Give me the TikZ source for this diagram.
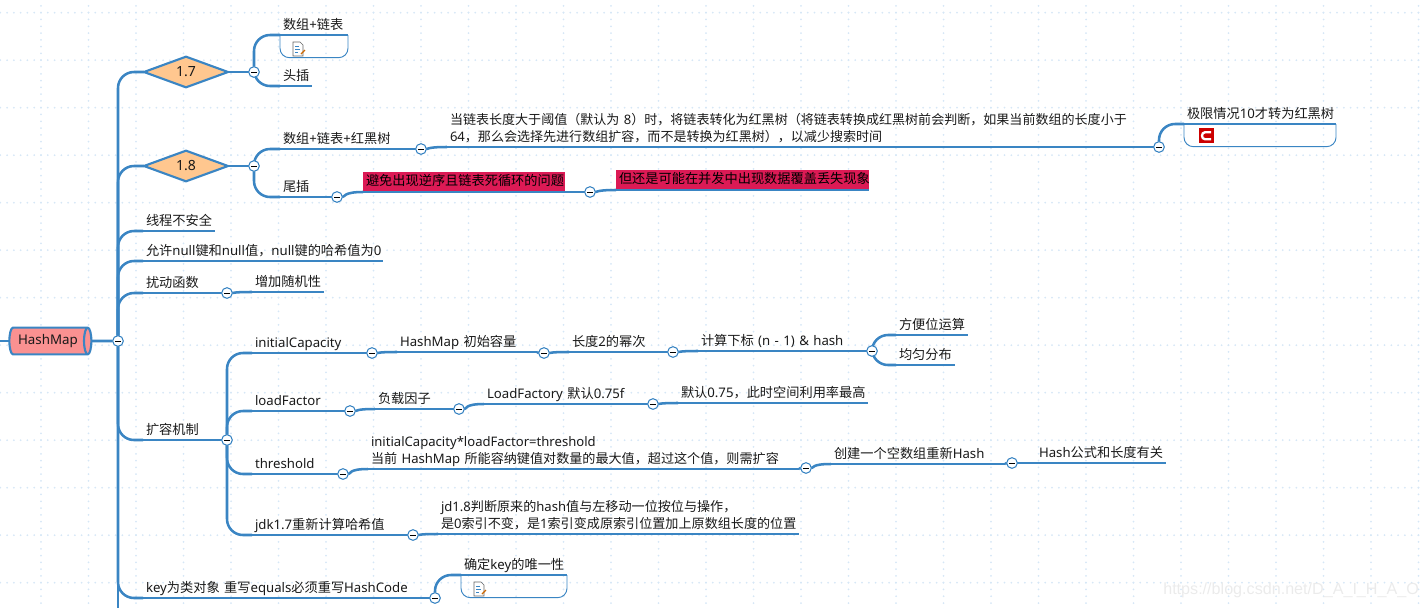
\documentclass[tikz,border=0pt]{standalone}
\usepackage{fontspec}
\setmainfont{Noto Sans}
\newfontfamily\cjkf{Noto Sans CJK SC}
\newXeTeXintercharclass\cjkclass
\XeTeXinterchartokenstate=1
\newcount\cc
\cc="3000 \loop \XeTeXcharclass\cc=\cjkclass \ifnum\cc<"303F \advance\cc 1 \repeat
\cc="4E00 \loop \XeTeXcharclass\cc=\cjkclass \ifnum\cc<"9FFF \advance\cc 1 \repeat
\cc="FF00 \loop \XeTeXcharclass\cc=\cjkclass \ifnum\cc<"FF60 \advance\cc 1 \repeat
\XeTeXinterchartoks 0 \cjkclass={\begingroup\cjkf}
\XeTeXinterchartoks 4095 \cjkclass={\begingroup\cjkf}
\XeTeXinterchartoks \cjkclass 0={\endgroup}
\XeTeXinterchartoks \cjkclass 4095={\endgroup}
\usetikzlibrary{shapes.geometric,backgrounds}
\definecolor{mm}{HTML}{3A85C3}
\definecolor{dotc}{HTML}{D6E7F6}
\definecolor{hot}{HTML}{DC1A55}
\tikzset{
  x=0.75pt,y=-0.75pt,
  topic/.style={anchor=south west,inner xsep=2.25pt,inner ysep=0.4pt,outer sep=0pt,
    font=\fontsize{9.9}{12.75}\selectfont,text=black!90,align=left,text width=#1*0.75pt-4.5pt,
    minimum width=#1*0.75pt,execute at begin node=\strut,execute at end node=\strut},
  hotfill/.style={fill=hot,text=black,inner ysep=1.2pt},
  tight/.style={font=\fontsize{#1}{12.75}\selectfont},
  conn/.style={draw=mm,line width=1.9pt,rounded corners=12pt},
  ul/.style={draw=mm,line width=1.7pt},
  ulthin/.style={draw=mm,line width=0.8pt},
  btn/.style={circle,draw=mm,fill=white,line width=0.8pt,minimum size=8pt,inner sep=0pt,outer sep=0pt,
    path picture={\draw[black,line width=0.7pt] ([xshift=-2.2pt]path picture bounding box.center) -- ([xshift=2.2pt]path picture bounding box.center);}},
  dia/.style={diamond,draw=mm,line width=1.6pt,fill={rgb,255:red,255;green,199;blue,143},aspect=2.7,
    minimum width=63pt,minimum height=23pt,inner sep=0pt,outer sep=0pt,font=\fontsize{10.5}{12}\selectfont,text=black!90},
  notebox/.style={draw=mm,line width=0.7pt,rounded corners=7pt},
  noteanchor/.style={anchor=north west,minimum width=#1*0.75pt,minimum height=17pt,inner sep=0pt,outer sep=0pt},
  hop/.style={conn,rounded corners=0pt,out=0,in=180,out distance=2pt,in distance=15pt},
}
\begin{document}
\begin{tikzpicture}
\useasboundingbox (0,0) rectangle (1424,608);
\clip (0,0) rectangle (1424,608);
% root
\node[cylinder,shape border rotate=0,aspect=0.55,draw=mm,line width=1.6pt,fill={rgb,255:red,250;green,145;blue,145},
  minimum height=61.5pt,minimum width=20pt,inner sep=0pt,outer sep=0pt,font=\fontsize{10}{12}\selectfont,text=black!90] (root) at (48,341) {HashMap\hspace{3pt}};
\coordinate (rin) at (0,341);
\coordinate (tend) at (118,608);
\node[btn] (rb) at (118,341) {};
% 1.7
\node[dia] (d17) at (186,72) {1.7};
\node[btn] (b17) at (254,72) {};
\node[topic=68] (n1) at (280,35) {数组+链表};
\node[noteanchor=68] (note1) at (280,35) {};
\node[topic=32] (n2) at (280,86) {头插};
% 1.8
\node[dia] (d18) at (186,166) {1.8};
\node[btn] (b18) at (254,166) {};
\node[topic=134] (n3) at (280,149) {数组+链表+红黑树};
\node[btn] (b3) at (421,149) {};
\node[topic=703,tight=9.78] (n4) at (447,147) {当链表长度大于阈值（默认为 8）时，将链表转化为红黑树（将链表转换成红黑树前会判断，如果当前数组的长度小于\\64，那么会选择先进行数组扩容，而不是转换为红黑树），以减少搜索时间};
\node[btn] (b4) at (1159,147) {};
\node[topic=152] (n5) at (1184,124) {极限情况10才转为红黑树};
\node[noteanchor=152] (note2) at (1184,124) {};
\node[topic=50] (n6) at (280,197) {尾插};
\node[btn] (b6) at (337,197) {};
\node[topic=202,hotfill] (r1) at (363,192) {避免出现逆序且链表死循环的问题};
\node[btn] (br1) at (590,192) {};
\node[topic=253,hotfill] (r2) at (616,190) {但还是可能在并发中出现数据覆盖丢失现象};
% simple
\node[topic=72] (t1) at (143,231) {线程不安全};
\node[topic=240] (t2) at (143,261) {允许null键和null值，null键的哈希值为0};
\node[topic=77] (t3) at (143,293) {扰动函数};
\node[btn] (b33) at (227,293) {};
\node[topic=72] (t31) at (252,292) {增加随机性};
% expansion
\node[topic=77] (t4) at (143,440) {扩容机制};
\node[btn] (b44) at (227,440) {};
\node[topic=113] (e1) at (252,353) {initialCapacity};
\node[btn] (be1) at (372,353) {};
\node[topic=140] (e11) at (397,352) {HashMap 初始容量};
\node[btn] (be11) at (544,353) {};
\node[topic=97] (e12) at (569,352) {长度2的幂次};
\node[btn] (be12) at (673,352) {};
\node[topic=167] (e13) at (698,351) {计算下标 (n - 1) \& hash};
\node[btn] (be13) at (872,351) {};
\node[topic=72] (e14) at (896,335) {方便位运算};
\node[topic=59] (e15) at (896,365) {均匀分布};
\node[topic=91] (e2) at (252,411) {loadFactor};
\node[btn] (be2) at (350,411) {};
\node[topic=77] (e21) at (375,409) {负载因子};
\node[btn] (be21) at (459,409) {};
\node[topic=162] (e22) at (484,404) {LoadFactory 默认0.75f};
\node[btn] (be22) at (653,404) {};
\node[topic=190] (e23) at (678,403) {默认0.75，此时空间利用率最高};
\node[topic=84] (e3) at (252,474) {threshold};
\node[btn] (be3) at (343,474) {};
\node[topic=431,tight=9.82] (e31) at (368,469) {initialCapacity*loadFactor=threshold\\当前 HashMap 所能容纳键值对数量的最大值，超过这个值，则需扩容};
\node[btn] (be31) at (806,468) {};
\node[topic=174] (e32) at (831,464) {创建一个空数组重新Hash};
\node[btn] (be32) at (1012,463) {};
\node[topic=130] (e33) at (1036,463) {Hash公式和长度有关};
\node[topic=154] (e4) at (252,535) {jdk1.7重新计算哈希值};
\node[btn] (be4) at (413,535) {};
\node[topic=361,tight=9.82] (e41) at (438,534) {jd1.8判断原来的hash值与左移动一位按位与操作，\\是0索引不变，是1索引变成原索引位置加上原数组长度的位置};
% key
\node[topic=285] (t5) at (143,598) {key为类对象 重写equals必须重写HashCode};
\node[btn] (b55) at (435,598) {};
\node[topic=106] (k1) at (461,575) {确定key的唯一性};
\node[noteanchor=106] (note3) at (461,575) {};
% underlines
\foreach \n in {n1,n2,n3,n4,n5,n6,r1,r2,t3,t4,t5,e1,e11,e12,e13,e14,e15,e2,e21,e22,e23,e3,e31,e32,e33,e4,e41,k1}
  \draw[ul] (\n.south west) -- (\n.south east);
\foreach \n in {t1,t2,t31}
  \draw[ulthin] (\n.south west) -- (\n.south east);
% note boxes
\foreach \n in {note1,note2,note3}
  \draw[notebox] (\n.north west) -- (\n.south west) -- (\n.south east) -- (\n.north east);
% icons
\foreach \n/\dx in {note1/18,note3/18}{
  \begin{scope}[shift={([xshift=\dx*0.75pt,yshift=-10.5pt]\n.north west)}]
    \draw[gray!80!black,line width=0.5pt,fill=white] (-5,-7) -- (2,-7) -- (5,-4) -- (5,7) -- (-5,7) -- cycle;
    \draw[mm,line width=0.5pt] (-3,-3) -- (1,-3) (-3,0) -- (2,0) (-3,3) -- (0,3);
    \draw[orange!80!black,line width=1pt] (3,5) -- (7,1);
  \end{scope}}
\begin{scope}[shift={([xshift=22*0.75pt,yshift=-8.8pt]note2.north west)}]
  \fill[red!80!black] (-7.5,-7.5) rectangle (7.5,7.5);
  \draw[white,line width=1.7pt] (5,-3.5) -- (-1,-3.5) .. controls (-5,-3.5) and (-5,3.5) .. (-1,3.5) -- (5,3.5);
\end{scope}
% watermark
\node[anchor=west,inner sep=0pt,font=\fontspec{Liberation Sans}\fontsize{12.1}{14}\selectfont,text=black!8] (wm) at (1163,590) {https://blog.csdn.net/D\_A\_I\_H\_A\_O};
% background
\begin{pgfonlayer}{background}
  \foreach \i in {-1,...,30}
    \draw[dotc,line width=1.5pt,line cap=round,dash pattern=on 0pt off 5.089pt] ({41+47.5*\i},-34.8) -- ({41+47.5*\i},640);
  \foreach \j in {-1,...,13}
    \draw[dotc,line width=1.5pt,line cap=round,dash pattern=on 0pt off 5.089pt] (-6.5,{12.7+47.5*\j}) -- (1440,{12.7+47.5*\j});
  % connectors
  \draw[conn] (rin) -- (root.west);
  \draw[conn] (root.east) -- (rb);
  \draw[conn] (rb) -- (tend);
  \foreach \t in {d17.west,d18.west,t1.south west,t2.south west,t3.south west,t4.south west,t5.south west}
    \draw[conn] (rb) |- (\t);
  \draw[conn] (d17.east) -- (b17);
  \draw[conn] (d18.east) -- (b18);
  \foreach \t in {n1,n2} \draw[conn] (b17) |- (\t.south west);
  \foreach \t in {n3,n6} \draw[conn] (b18) |- (\t.south west);
  \foreach \a/\b/\c in {n3/b3/n4,n4/b4/n5,n6/b6/r1,r1/br1/r2,t3/b33/t31,t5/b55/k1,e1/be1/e11,e11/be11/e12,e12/be12/e13,e2/be2/e21,e21/be21/e22,e22/be22/e23,e3/be3/e31,e31/be31/e32,e32/be32/e33,e4/be4/e41}{
    \draw[conn] (\a.south east) to[out=0,in=180] (\b);}
  \foreach \b/\c in {b3/n4,b6/r1,br1/r2,b33/t31,be1/e11,be11/e12,be12/e13,be2/e21,be21/e22,be22/e23,be3/e31,be31/e32,be32/e33,be4/e41}
    \draw[hop] (\b) to (\c.south west);
  \foreach \b/\c in {b4/n5,b55/k1}
    \draw[conn] (\b) |- (\c.south west);
  \draw[conn] (e13.south east) -- (be13);
  \foreach \t in {e14,e15} \draw[conn] (be13) |- (\t.south west);
  \draw[conn] (t4.south east) -- (b44);
  \foreach \t in {e1,e2,e3,e4} \draw[conn] (b44) |- (\t.south west);
\end{pgfonlayer}
\end{tikzpicture}
\end{document}
